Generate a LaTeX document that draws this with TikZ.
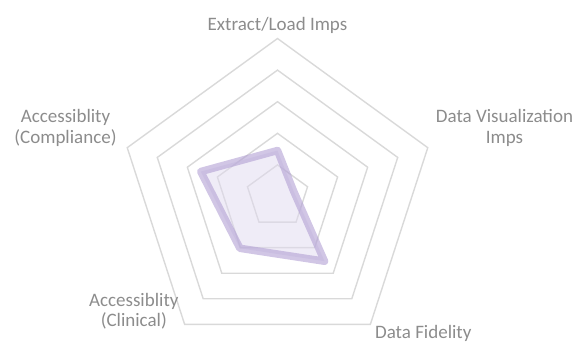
\documentclass[tikz,border=0pt]{standalone}
\usepackage{fontspec}
\setmainfont{Carlito}
\definecolor{gridgray}{RGB}{217,217,217}
\definecolor{labelgray}{RGB}{140,140,140}
\definecolor{seriesline}{RGB}{178,160,212}
\definecolor{seriesfill}{RGB}{224,217,239}
\begin{document}
\begin{tikzpicture}[x=1pt,y=-1pt,
  ring/.style={draw=gridgray,line width=1.4pt,line join=miter},
  axislabel/.style={text=labelgray,font=\fontsize{19}{20.5}\selectfont,align=center,inner sep=0pt,anchor=base},
  series/.style={draw=seriesline,draw opacity=0.6,line width=7.5pt,line join=round,
    fill=seriesfill,fill opacity=0.5}]
\useasboundingbox (0,0) rectangle (585,354);
\coordinate (c) at (277.5,196.5);
% concentric pentagon grid (five levels)
\foreach \k in {1,...,5}{
  \draw[ring] ([shift={(-90:\k*31.6)}]c) -- ([shift={(-18:\k*31.6)}]c)
    -- ([shift={(54:\k*31.6)}]c) -- ([shift={(126:\k*31.6)}]c)
    -- ([shift={(198:\k*31.6)}]c) -- cycle;
}
% data series
\coordinate (p1) at ([shift={(-90:46)}]c);
\coordinate (p2) at ([shift={(-18:17)}]c);
\coordinate (p3) at ([shift={(54:80)}]c);
\coordinate (p4) at ([shift={(126:64)}]c);
\coordinate (p5) at ([shift={(198:80.7)}]c);
\draw[series] (p1) -- (p2) -- (p3) -- (p4) -- (p5) -- cycle;
% axis labels
\node[axislabel] (l1) at (277.5,30) {Extract/Load Imps};
\node[axislabel] (l2) at (504.5,143.3) {Data Visualization\\Imps};
\node[axislabel] (l3) at (423.3,338.3) {Data Fidelity};
\node[axislabel] (l4) at (133.8,326.7) {Accessiblity\\(Clinical)};
\node[axislabel] (l5) at (65.5,143.3) {Accessiblity\\(Compliance)};
\end{tikzpicture}
\end{document}
